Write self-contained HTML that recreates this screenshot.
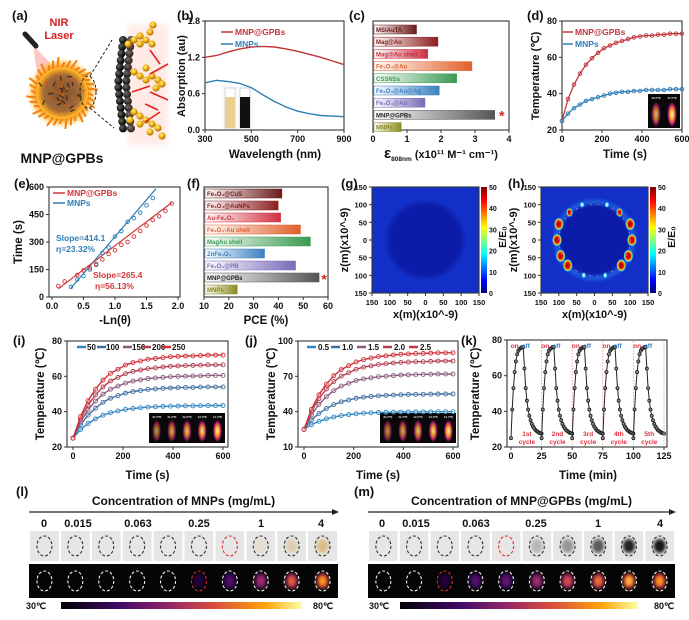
<!DOCTYPE html>
<html><head><meta charset="utf-8">
<style>
html,body{margin:0;padding:0;background:#fff;}
svg{display:block;font-family:"Liberation Sans",Arial,sans-serif;font-weight:bold;}
</style></head>
<body>
<svg id="fig" width="689" height="620" viewBox="0 0 689 620" xmlns="http://www.w3.org/2000/svg">
<defs>
  <radialGradient id="sphereG" cx="50%" cy="50%" r="50%">
    <stop offset="0" stop-color="#7a5030"/><stop offset="0.7" stop-color="#a06a3a"/><stop offset="0.9" stop-color="#f0a020"/><stop offset="1" stop-color="#ffd040" stop-opacity="0.6"/>
  </radialGradient>
  <radialGradient id="flameG" cx="50%" cy="50%" r="50%">
    <stop offset="0.75" stop-color="#ff9a20"/><stop offset="1" stop-color="#ffcc30" stop-opacity="0"/>
  </radialGradient>
  <radialGradient id="goldG" cx="40%" cy="35%" r="60%">
    <stop offset="0" stop-color="#fff080"/><stop offset="0.6" stop-color="#f0b010"/><stop offset="1" stop-color="#b07000"/>
  </radialGradient>
  <radialGradient id="blackG" cx="35%" cy="35%" r="60%">
    <stop offset="0" stop-color="#666"/><stop offset="1" stop-color="#000"/>
  </radialGradient>
  <linearGradient id="jet" x1="0" y1="1" x2="0" y2="0">
    <stop offset="0" stop-color="#00007f"/><stop offset="0.12" stop-color="#0000ff"/><stop offset="0.37" stop-color="#00ffff"/><stop offset="0.62" stop-color="#ffff00"/><stop offset="0.87" stop-color="#ff0000"/><stop offset="1" stop-color="#7f0000"/>
  </linearGradient>
  <linearGradient id="inferno" x1="0" y1="0" x2="1" y2="0">
    <stop offset="0" stop-color="#000004"/><stop offset="0.25" stop-color="#420a68"/><stop offset="0.45" stop-color="#932667"/><stop offset="0.65" stop-color="#dd513a"/><stop offset="0.85" stop-color="#fca50a"/><stop offset="1" stop-color="#fcffa4"/>
  </linearGradient>
  <radialGradient id="hotG" cx="50%" cy="50%" r="50%">
    <stop offset="0" stop-color="#fffbe0"/><stop offset="0.35" stop-color="#ffb020"/><stop offset="0.7" stop-color="#c02070"/><stop offset="1" stop-color="#300050" stop-opacity="0"/>
  </radialGradient>
  <radialGradient id="spotRed" cx="50%" cy="50%" r="50%">
    <stop offset="0" stop-color="#a00000"/><stop offset="0.45" stop-color="#e01000"/><stop offset="0.7" stop-color="#f0c000"/><stop offset="0.88" stop-color="#30d0ff"/><stop offset="1" stop-color="#1030ff" stop-opacity="0"/>
  </radialGradient>
  <radialGradient id="spotCyan" cx="50%" cy="50%" r="50%">
    <stop offset="0" stop-color="#ffffff"/><stop offset="0.5" stop-color="#60f0ff"/><stop offset="1" stop-color="#1030ff" stop-opacity="0"/>
  </radialGradient>
  <filter id="blur1"><feGaussianBlur stdDeviation="1.5"/></filter>
  <filter id="blur2"><feGaussianBlur stdDeviation="3"/></filter>
</defs>
</svg>
<script>
// ---------------- DATA ----------------
const absWl = [300,350,400,450,500,550,600,650,700,750,800,850,900];
const absGPB = [1.20,1.23,1.29,1.34,1.37,1.38,1.37,1.34,1.30,1.25,1.20,1.14,1.08];
const absMNP = [0.78,0.82,0.80,0.77,0.70,0.58,0.47,0.38,0.31,0.27,0.24,0.23,0.22];

const epsNames = ['MSiAuTA','Mag@Au','Mag@Au shell','Fe₃O₄@Au','CSSNSs','Fe₃O₄@Au@Ag','Fe₃O₄@Au','MNP@GPBs','MNPs'];
const epsValues = [1.25,1.88,1.58,2.88,2.43,1.92,1.50,3.55,0.80];
const epsColors = ['#6b1a1a','#8b1c1c','#c83040','#e0602a','#3a9a50','#3a80c0','#7a6ab8','#555555','#8a8a20'];

const heatTime = [0,30,60,90,120,150,180,210,240,270,300,330,360,390,420,450,480,510,540,570,600];
const dGPB = [25,37,45,51,56,59.5,62.5,65,66.5,68,69,70,71,71.5,72,72,72.5,72.5,73,73,73];
const dMNP = [25,29,32,34,36,37,38,39,40,40.5,41,41,41.5,41.5,42,42,42,42,42.5,42.5,42.5];

const eBlueX = [0.3,0.4,0.5,0.6,0.7,0.8,0.9,1.0,1.1,1.2,1.3,1.4,1.5,1.6];
const eBlueY = [55,95,115,150,180,240,270,330,360,410,430,460,500,540];
const eBlueFit = [[0.3,48],[1.65,590]];
const eRedX = [0.1,0.2,0.4,0.5,0.6,0.7,0.8,0.9,1.0,1.1,1.2,1.3,1.4,1.5,1.6,1.7,1.8,1.9];
const eRedY = [60,85,120,145,160,175,205,235,255,285,300,330,360,390,420,440,470,510];
const eRedFit = [[0.1,45],[1.9,515]];

const pceNames = ['Fe₃O₄@CuS','Fe₃O₄@AuNPs','Au-Fe₃O₄','Fe₃O₄-Au shell','MagAu shell','ZnFe₂O₄','Fe₃O₄@PB','MNP@GPBs','MNPs'];
const pceValues = [41,39.5,40.5,48.5,52.5,34,46.5,56,23];
const pceColors = ['#6b1a1a','#8b2020','#d03040','#e0602a','#3a9a50','#3a80c0','#7a6ab8','#555555','#8a8a20'];

const concLabels = ['50','100','150','200','250'];
const concColors = ['#2e86c1','#3f6f9f','#8a5a7a','#b0404f','#d0303a'];
const iSeries = [
 [25,29.8,33.3,35.9,38,39.4,40.4,41.3,41.8,42.2,42.6,42.8,43,43.1,43.2,43.3,43.3,43.4,43.5,43.5,43.5],
 [25,32.5,38,42,45.3,47.6,49.1,50.5,51.4,52,52.6,52.9,53.2,53.4,53.6,53.7,53.7,53.9,54,54,54],
 [25,34.2,41,46,49.9,52.7,54.5,56.2,57.3,58,58.7,59.1,59.4,59.8,60,60.1,60.2,60.3,60.5,60.5,60.5],
 [25,35.8,43.7,49.5,54,57.4,59.4,61.5,62.8,63.6,64.4,64.8,65.3,65.7,65.9,66.1,66.2,66.3,66.5,66.5,66.5],
 [25,37.2,46.2,52.7,57.9,61.7,64,66.4,67.8,68.7,69.7,70.1,70.6,71.1,71.3,71.5,71.6,71.8,72,72,72]
];
const powerLabels = ['0.5','1.0','1.5','2.0','2.5'];
const jSeries = [
 [25,28.9,31.8,33.9,35.5,36.7,37.5,38.2,38.7,39,39.3,39.4,39.6,39.7,39.8,39.9,39.9,39.9,40,40,40],
 [25,32.8,38.5,42.7,46,48.4,49.9,51.4,52.3,52.9,53.5,53.8,54.1,54.4,54.6,54.7,54.7,54.9,55,55,55],
 [25,37.2,46.2,52.7,57.9,61.7,64,66.4,67.8,68.7,69.7,70.1,70.6,71.1,71.3,71.5,71.6,71.8,72,72,72],
 [25,40.1,51.1,59.2,65.6,70.2,73.1,76,77.8,78.9,80.1,80.7,81.3,81.8,82.1,82.4,82.4,82.7,83,83,83],
 [25,41.9,54.3,63.4,70.5,75.7,79,82.2,84.2,85.5,86.8,87.4,88.1,88.7,89,89.4,89.4,89.7,90,90,90]
];
const cycleNames = ['1st','2nd','3rd','4th','5th'];
const cycleMinute = [0,1,2,3,4,5,6,7,8,9,10,11,12,13,14,15,16,17,18,19,20,21,22,23,24,25];
const cycleTemp = [25,41,53,62,68,72,74,75,75.5,76,76,64,53,46,41,37.5,35,33,31.5,30.5,29.5,29,28.5,28,27.8,27.5];

const concMNP = ['0','0.015','0.063','0.25','1','4'];
const lPhotoTone = [0,0,0,0,0,0,0,0.15,0.35,0.6];
const lHeat = [0,0,0,0,0,0.15,0.3,0.5,0.7,0.85];
const mPhotoTone = [0,0,0,0,0,0.2,0.35,0.65,0.9,0.95];
const mHeat = [0,0,0.15,0.3,0.35,0.5,0.65,0.75,0.9,0.85];

// ---------------- HELPERS ----------------
const NS='http://www.w3.org/2000/svg';
const svg=document.getElementById('fig');
function mk(tag, attrs, name, parent){
  const e=document.createElementNS(NS,tag);
  for(const k in attrs) e.setAttribute(k, attrs[k]);
  
  
  (parent||svg).appendChild(e);
  return e;
}
function tx(x,y,s,size,anchor,fill,name,extra){
  const a={x:x,y:y,'font-size':size,'text-anchor':anchor||'middle',fill:fill||'#111'};
  if(extra) for(const k in extra) a[k]=extra[k];
  const t=mk('text',a,name);
  t.textContent=s;
  return t;
}
function lin(d0,d1,r0,r1){return v=>r0+(v-d0)*(r1-r0)/(d1-d0);}
function frame(x0,y0,x1,y1,name){ mk('rect',{x:x0,y:y0,width:x1-x0,height:y1-y0,fill:'none',stroke:'#333','stroke-width':1.1},name); }
function xTicks(vals,labels,sx,y,name,size){
  vals.forEach((v,i)=>{
    mk('line',{x1:sx(v),x2:sx(v),y1:y,y2:y+3,stroke:'#333'},name+'-tick');
    tx(sx(v),y+12,labels[i],size||9,'middle','#111',name+'-label');
  });
}
function yTicks(vals,labels,sy,x,name,size){
  vals.forEach((v,i)=>{
    mk('line',{x1:x-3,x2:x,y1:sy(v),y2:sy(v),stroke:'#333'},name+'-tick');
    tx(x-5,sy(v)+3,labels[i],size||9,'end','#111',name+'-label');
  });
}
function vTitle(x,y,s,size,name){ tx(x,y,s,size,'middle','#111',name,{transform:'rotate(-90 '+x+' '+y+')'}); }
function poly(xs,ys,sx,sy,color,w,name,dash){
  const pts=xs.map((v,i)=>sx(v).toFixed(1)+','+sy(ys[i]).toFixed(1)).join(' ');
  const a={points:pts,fill:'none',stroke:color,'stroke-width':w||1.3};
  if(dash) a['stroke-dasharray']=dash;
  return mk('polyline',a,name);
}
function dots(xs,ys,sx,sy,color,r,name,fill){
  xs.forEach((v,i)=>{ mk('circle',{cx:sx(v),cy:sy(ys[i]),r:r||2,fill:fill||'none',stroke:color,'stroke-width':0.9},name); });
}
function panelLabel(x,y,s){ tx(x,y,s,13,'start','#111','panel-label-'+s.replace(/[()]/g,'')); }
function thermalInset(x,y,w,h,n,name){
  mk('rect',{x:x,y:y,width:w,height:h,fill:'#080808'},name);
  for(let i=0;i<n;i++){
    const cx=x+w*(i+0.5)/n, k=(i+1)/n;
    mk('ellipse',{cx:cx,cy:y+h*0.6,rx:w/n*0.32,ry:h*0.4,fill:'url(#hotG)',opacity:0.5+0.5*k},name+'-tube');
    tx(cx,y+5,'4'+i+'.0℃',3,'middle','#ddd',name+'-temp');
  }
}
const infStops=[[0,[0,0,4]],[0.25,[66,10,104]],[0.45,[147,38,103]],[0.65,[221,81,58]],[0.85,[252,165,10]],[1,[252,255,164]]];
function infernoColor(t){
  for(let i=1;i<infStops.length;i++){
    if(t<=infStops[i][0]){ const a=infStops[i-1],b=infStops[i]; const f=(t-a[0])/(b[0]-a[0]);
      return 'rgb('+a[1].map((c,j)=>Math.round(c+(b[1][j]-c)*f)).join(',')+')'; }
  }
  return 'rgb(252,255,164)';
}

// ---------------- (a) ----------------
panelLabel(12,20,'(a)');
tx(59,26,'NIR',11,'middle','#d02020','nir-text');
tx(59,39,'Laser',11,'middle','#d02020','laser-text');
mk('polygon',{points:'33,45 62,75 38,80',fill:'#ff8080',opacity:0.45},'laser-beam');
mk('line',{x1:25,y1:34,x2:36,y2:46,stroke:'#222','stroke-width':5,'stroke-linecap':'round'},'laser-pen');
mk('circle',{cx:62,cy:93,r:35,fill:'url(#flameG)'},'flame-halo');
for(let i=0;i<36;i++){ const a=i*Math.PI/18, r1=26, r2=31+(i%3)*2.5;
  mk('line',{x1:62+r1*Math.cos(a),y1:93+r1*Math.sin(a),x2:62+r2*Math.cos(a+0.08),y2:93+r2*Math.sin(a+0.08),stroke:'#f08010','stroke-width':2},'flame-spike'); }
mk('circle',{cx:62,cy:93,r:26,fill:'url(#sphereG)'},'mnp-sphere');
for(let i=0;i<40;i++){ const a=i*2.4, r=(i*7)%22;
  mk('line',{x1:62+r*Math.cos(a),y1:93+r*Math.sin(a),x2:62+r*Math.cos(a)+5*Math.cos(a*3),y2:93+r*Math.sin(a)+5*Math.sin(a*3),stroke:i%2?'#4a2a18':'#c06020','stroke-width':1.3},'sphere-texture'); }
mk('ellipse',{cx:88,cy:92,rx:8,ry:16,fill:'none',stroke:'#222','stroke-dasharray':'3 2'},'zoom-ellipse');
mk('line',{x1:90,y1:76,x2:112,y2:40,stroke:'#222','stroke-dasharray':'3 2'},'zoom-line-top');
mk('line',{x1:90,y1:108,x2:114,y2:128,stroke:'#222','stroke-dasharray':'3 2'},'zoom-line-bottom');
for(let row=0;row<14;row++){ for(let c=0;c<2;c++){ const t=row/13; const cx=118+c*8+ (Math.abs(t-0.5)*10); const cy=40+row*6.8;
  mk('circle',{cx:cx,cy:cy,r:4,fill:'url(#blackG)'},'black-bead'); } }
mk('rect',{x:128,y:25,width:40,height:120,fill:'#ffb0a0',opacity:0.25,filter:'url(#blur2)'},'gold-glow');
const goldPts=[[128,44],[134,40],[140,44],[146,40],[152,44],[150,32],[153,25],[140,36],[134,72],[140,76],[146,80],[152,76],[158,80],[156,88],[162,84],[146,68],[134,112],[140,116],[146,120],[152,124],[158,128],[162,136],[150,132],[140,124],[130,120]];
goldPts.forEach(p=>mk('circle',{cx:p[0],cy:p[1],r:3.6,fill:'url(#goldG)'},'gold-bead'));
[[150,50,160,64],[168,64,150,74],[150,92,168,100],[145,104,158,110],[160,112,145,122],[132,92,150,86]].forEach(a=>{
  mk('line',{x1:a[0],y1:a[1],x2:a[2],y2:a[3],stroke:'#e82020','stroke-width':1.6},'red-arrow'); });
tx(62,163,'MNP@GPBs',14,'middle','#111','a-title');

// ---------------- (b) ----------------
panelLabel(177,20,'(b)');
(function(){
  const sx=lin(300,900,205,344), sy=lin(0,1.8,130,21);
  frame(205,21,344,130,'b-frame');
  xTicks([300,500,700,900],['300','500','700','900'],sx,130,'b-x');
  yTicks([0,0.6,1.2,1.8],['0.0','0.6','1.2','1.8'],sy,205,'b-y');
  mk('rect',{x:222,y:86,width:32,height:43,fill:'#fafafa'},'vial-inset');
  mk('rect',{x:225,y:88,width:10,height:40,fill:'#fff',stroke:'#bbb','stroke-width':0.6},'vial-1');
  mk('rect',{x:225,y:97,width:10,height:31,fill:'#eccf90'},'vial-1-liquid');
  mk('rect',{x:240,y:88,width:10,height:40,fill:'#fff',stroke:'#bbb','stroke-width':0.6},'vial-2');
  mk('rect',{x:240,y:97,width:10,height:31,fill:'#111'},'vial-2-liquid');
  poly(absWl,absGPB,sx,sy,'#c0363c',1.4,'b-line-mnp-gpbs');
  poly(absWl,absMNP,sx,sy,'#2f7fb5',1.4,'b-line-mnps');
  mk('line',{x1:221,x2:233,y1:32,y2:32,stroke:'#c0363c','stroke-width':1.5},'b-legend-gpb-line');
  tx(235,35,'MNP@GPBs',8.5,'start','#c0363c','b-legend-gpb');
  mk('line',{x1:221,x2:233,y1:44,y2:44,stroke:'#2f7fb5','stroke-width':1.5},'b-legend-mnp-line');
  tx(235,47,'MNPs',8.5,'start','#2f7fb5','b-legend-mnp');
  tx(275,158,'Wavelength (nm)',11.5,'middle','#111','b-x-title');
  vTitle(185,76,'Absorption (au)',11,'b-y-title');
})();

// ---------------- (c) ----------------
panelLabel(349,20,'(c)');
(function(){
  const sx=lin(0,4,373,509);
  const top=21, step=12.2;
  frame(373,21,509,130,'c-frame');
  xTicks([0,1,2,3,4],['0','1','2','3','4'],sx,130,'c-x');
  epsValues.forEach((v,i)=>{
    const y=top+4+i*step;
    const gid='cg'+i;
    const g=mk('linearGradient',{id:gid,x1:0,y1:0,x2:1,y2:0},'c-grad',svg.querySelector('defs'));
    mk('stop',{offset:0,'stop-color':'#fff'},'c-stop',g);
    mk('stop',{offset:1,'stop-color':epsColors[i]},'c-stop',g);
    mk('rect',{x:sx(0)+1,y:y,width:sx(v)-sx(0),height:9,fill:'url(#'+gid+')',stroke:epsColors[i],'stroke-width':0.5},'c-bar-'+i);
    tx(sx(0)+3,y+7,epsNames[i],6,'start',epsColors[i]==='#555555'?'#222':epsColors[i],'c-bar-label');
  });
  tx(sx(epsValues[7])+8,top+4+7*step+10,'*',14,'middle','#e02020','c-star');
  const t=mk('text',{x:441,y:158,'text-anchor':'middle','font-size':11,fill:'#111'},'c-x-title');
  const s1=document.createElementNS(NS,'tspan'); s1.setAttribute('font-size','15'); s1.textContent='ε'; t.appendChild(s1);
  const s2=document.createElementNS(NS,'tspan'); s2.setAttribute('font-size','6.5'); s2.setAttribute('dy','3'); s2.textContent='808nm'; t.appendChild(s2);
  const s3=document.createElementNS(NS,'tspan'); s3.setAttribute('dy','-3'); s3.textContent=' (x10¹¹ M⁻¹ cm⁻¹)'; t.appendChild(s3);
})();

// ---------------- (d) ----------------
panelLabel(527,20,'(d)');
(function(){
  const sx=lin(0,600,562,682), sy=lin(20,80,130,21);
  frame(562,21,682,130,'d-frame');
  xTicks([0,200,400,600],['0','200','400','600'],sx,130,'d-x');
  yTicks([20,40,60,80],['20','40','60','80'],sy,562,'d-y');
  thermalInset(648,94,32,34,2,'d-inset');
  poly(heatTime,dGPB,sx,sy,'#c0363c',1.3,'d-line-gpb');
  dots(heatTime,dGPB,sx,sy,'#c0363c',1.8,'d-point-gpb');
  poly(heatTime,dMNP,sx,sy,'#2f7fb5',1.3,'d-line-mnp');
  dots(heatTime,dMNP,sx,sy,'#2f7fb5',1.8,'d-point-mnp');
  mk('line',{x1:563,x2:573,y1:32,y2:32,stroke:'#c0363c','stroke-width':1.5},'d-legend-gpb-line');
  tx(575,35,'MNP@GPBs',8.5,'start','#c0363c','d-legend-gpb');
  mk('line',{x1:563,x2:573,y1:44,y2:44,stroke:'#2f7fb5','stroke-width':1.5},'d-legend-mnp-line');
  tx(575,47,'MNPs',8.5,'start','#2f7fb5','d-legend-mnp');
  tx(625,158,'Time (s)',11.5,'middle','#111','d-x-title');
  vTitle(539,76,'Temperature (℃)',11,'d-y-title');
})();

// ---------------- (e) ----------------
panelLabel(14,188,'(e)');
(function(){
  const sx=lin(0,2,52,178), sy=lin(0,600,297,187);
  frame(49,187,180,297,'e-frame');
  xTicks([0,0.5,1,1.5,2],['0.0','0.5','1.0','1.5','2.0'],sx,297,'e-x');
  yTicks([0,150,300,450,600],['0','150','300','450','600'],sy,49,'e-y');
  poly(eBlueFit.map(p=>p[0]),eBlueFit.map(p=>p[1]),sx,sy,'#2f7fb5',1.2,'e-fit-mnp');
  poly(eRedFit.map(p=>p[0]),eRedFit.map(p=>p[1]),sx,sy,'#d0363c',1.2,'e-fit-gpb');
  dots(eBlueX,eBlueY,sx,sy,'#2f7fb5',1.8,'e-point-mnp');
  dots(eRedX,eRedY,sx,sy,'#d0363c',1.8,'e-point-gpb');
  mk('line',{x1:53,x2:65,y1:193,y2:193,stroke:'#d0363c','stroke-width':1.5},'e-legend-gpb-line');
  tx(67,196,'MNP@GPBs',8.5,'start','#d0363c','e-legend-gpb');
  mk('line',{x1:53,x2:65,y1:203,y2:203,stroke:'#2f7fb5','stroke-width':1.5},'e-legend-mnp-line');
  tx(67,206,'MNPs',8.5,'start','#2f7fb5','e-legend-mnp');
  tx(56,241,'Slope=414.1',8.5,'start','#2f7fb5','e-slope-mnp');
  tx(56,252,'η=23.32%',8.5,'start','#2f7fb5','e-eta-mnp');
  tx(93,278,'Slope=265.4',8.5,'start','#d0363c','e-slope-gpb');
  tx(95,289,'η=56.13%',8.5,'start','#d0363c','e-eta-gpb');
  tx(115,324,'-Ln(θ)',11.5,'middle','#111','e-x-title');
  vTitle(22,242,'Time (s)',11.5,'e-y-title');
})();

// ---------------- (f) ----------------
panelLabel(187,188,'(f)');
(function(){
  const sx=lin(10,60,204,328);
  frame(204,187,328,297,'f-frame');
  xTicks([10,20,30,40,50,60],['10','20','30','40','50','60'],sx,297,'f-x');
  pceValues.forEach((v,i)=>{
    const y=189+i*12;
    const gid='fg'+i;
    const g=mk('linearGradient',{id:gid,x1:0,y1:0,x2:1,y2:0},'f-grad',svg.querySelector('defs'));
    mk('stop',{offset:0,'stop-color':'#fff'},'f-stop',g);
    mk('stop',{offset:1,'stop-color':pceColors[i]},'f-stop',g);
    mk('rect',{x:sx(10)+1,y:y,width:sx(v)-sx(10),height:9,fill:'url(#'+gid+')',stroke:pceColors[i],'stroke-width':0.5},'f-bar-'+i);
    tx(sx(10)+3,y+7,pceNames[i],6,'start',pceColors[i]==='#555555'?'#222':pceColors[i],'f-bar-label');
  });
  tx(sx(pceValues[7])+6,189+7*12+11,'*',14,'middle','#e02020','f-star');
  tx(266,324,'PCE (%)',11.5,'middle','#111','f-x-title');
})();

// ---------------- (g) & (h) ----------------
function fdtd(x0,label,lx,hot){
  panelLabel(lx,188,label);
  const x1=x0+107, y0=187, y1=293;
  const sx=lin(-150,150,x0,x1), sy=lin(-150,150,y1,y0);
  mk('rect',{x:x0,y:y0,width:107,height:106,fill:'#1230c8'},label+'-field');
  mk('ellipse',{cx:sx(0),cy:sy(0),rx:38,ry:38,fill:'#0c1ca8',filter:'url(#blur1)'},label+'-particle');
  if(hot){
    mk('circle',{cx:sx(0),cy:sy(0),r:38,fill:'none',stroke:'#3090ff','stroke-width':5,opacity:0.5,filter:'url(#blur1)'},'h-ring-glow');
    const spots=[[100,45,1],[105,0,1],[95,-45,1],[75,-72,1],[70,78,0.6],[35,100,0],[30,-100,0]];
    spots.forEach(s=>{ [1,-1].forEach(m=>{
      const r=s[2]===1?6.5:(s[2]>0?4.5:3.5);
      mk('ellipse',{cx:sx(m*s[0]),cy:sy(s[1]),rx:r*0.75,ry:r,fill:s[2]>0?'url(#spotRed)':'url(#spotCyan)'},'h-hotspot');
    });});
    mk('circle',{cx:sx(0),cy:sy(0),r:36,fill:'none',stroke:'#ffffff','stroke-width':0.6,'stroke-dasharray':'1.5 6',opacity:0.7},'h-outline');
  }
  frame(x0,y0,x1,y1,label+'-frame');
  xTicks([-150,-100,-50,0,50,100,150],['150','100','50','0','50','100','150'],sx,y1,label+'-x',7.5);
  yTicks([150,100,50,0,-50,-100,-150],['150','100','50','0','50','100','150'],sy,x0,label+'-y',7.5);
  mk('rect',{x:x1+2,y:y0,width:6,height:106,fill:'url(#jet)'},label+'-colorbar');
  const cs=lin(0,50,y1,y0);
  [0,10,20,30,40,50].forEach(v=>tx(x1+10,cs(v)+3,String(v),7,'start','#111',label+'-cb-label'));
  vTitle(x1+27,y0+50,'E/E₀',10.5,label+'-cb-title');
  tx(sx(0),318,'x(m)(x10^-9)',11,'middle','#111',label+'-x-title');
  vTitle(x0-24,240,'z(m)(x10^-9)',11,label+'-y-title');
}
fdtd(372,'(g)',341,false);
fdtd(541,'(h)',508,true);

// ---------------- (i) & (j) ----------------
function heatPanel(bx0,bx1,lx,label,series,labels,ymin,ymax,yt,legendXs,legendTxtXs){
  panelLabel(lx,345,label);
  const sx=lin(0,600,bx0+6,bx1-5), sy=lin(ymin,ymax,447,341);
  frame(bx0,341,bx1,447,label+'-frame');
  xTicks([0,200,400,600],['0','200','400','600'],sx,447,label+'-x');
  yTicks(yt,yt.map(String),sy,bx0,label+'-y');
  thermalInset(bx0+82,413,76,30,5,label+'-inset');
  series.forEach((s,i)=>{
    poly(heatTime,s,sx,sy,concColors[i],1.4,label+'-line-'+labels[i]);
    dots(heatTime,s,sx,sy,concColors[i],2,label+'-point-'+labels[i],'rgba(255,255,255,0.3)');
    mk('line',{x1:legendXs[i],x2:legendXs[i]+9,y1:347,y2:347,stroke:concColors[i],'stroke-width':2.5},label+'-legend-line');
    tx(legendTxtXs[i],350,labels[i],8,'start','#111',label+'-legend-'+labels[i]);
  });
  tx((bx0+bx1)/2,479,'Time (s)',11.5,'middle','#111',label+'-x-title');
  vTitle(bx0-23,394,'Temperature (℃)',11.5,label+'-y-title');
}
heatPanel(67,228,13,'(i)',iSeries,concLabels,20,80,[20,40,60,80],[77,97,123,142,162],[87,106,132,152,172]);
heatPanel(298,458,245,'(j)',jSeries,powerLabels,10,100,[10,40,70,100],[307,331,357,383,409],[318,342,368,394,420]);

// ---------------- (k) ----------------
panelLabel(461,345,'(k)');
(function(){
  const sx=lin(0,125,511,664), sy=lin(20,80,447,340);
  frame(507,340,667,447,'k-frame');
  xTicks([0,25,50,75,100,125],['0','25','50','75','100','125'],sx,447,'k-x');
  yTicks([20,40,60,80],['20','40','60','80'],sy,507,'k-y');
  cycleNames.forEach((n,c)=>{
    const off=c*25;
    if(c>0) mk('line',{x1:sx(off),x2:sx(off),y1:341,y2:446,stroke:'#f08080','stroke-width':0.7,'stroke-dasharray':'1.5 1.5'},'k-cycle-divider');
    const xs=cycleMinute.map(m=>m+off);
    poly(xs,cycleTemp,sx,sy,'#222',1,'k-line-'+n);
    dots(xs,cycleTemp,sx,sy,'#222',1.5,'k-point-'+n,'#999');
    tx(sx(off+3),348,'on',6.5,'middle','#e03040','k-on');
    tx(sx(off+12),348,'off',6.5,'middle','#3a80c0','k-off');
    tx(sx(off+13),436,n,6.5,'middle','#e03040','k-cycle-num');
    tx(sx(off+13),444,'cycle',6.5,'middle','#e03040','k-cycle-word');
  });
  mk('line',{x1:sx(125),x2:sx(125),y1:341,y2:446,stroke:'#f08080','stroke-width':0.7,'stroke-dasharray':'1.5 1.5'},'k-cycle-divider');
  tx(588,479,'Time (min)',11.5,'middle','#111','k-x-title');
  vTitle(479,394,'Temperature (℃)',11.5,'k-y-title');
})();

// ---------------- (l) & (m) ----------------
function concPanel(x0,x1,lx,label,title,labels,labelXs,photo,heat,redPhoto,redHeat,photoColor,cbX0,cbX1,c30x,c80x){
  panelLabel(lx,496,label);
  tx((x0+x1)/2,505,title,12,'middle','#111',label+'-title');
  mk('line',{x1:x0,x2:x1-4,y1:512,y2:512,stroke:'#222','stroke-width':1.2},label+'-arrow-line');
  mk('polygon',{points:(x1-6)+',509 '+(x1+1)+',512 '+(x1-6)+',515',fill:'#222'},label+'-arrow-head');
  labels.forEach((s,i)=>tx(labelXs[i],527,s,11,'middle','#111',label+'-conc-'+s));
  const w=(x1-x0)/10;
  mk('rect',{x:x0,y:564,width:x1-x0,height:34,fill:'#050505'},label+'-thermal-strip');
  photo.forEach((p,i)=>{
    const cx=x0+w*(i+0.5);
    mk('rect',{x:x0+w*i+1,y:531,width:w-2,height:30,fill:'#e6e6e6'},label+'-photo-tile');
    if(p>0) mk('ellipse',{cx:cx,cy:546,rx:6,ry:7,fill:photoColor(p),filter:'url(#blur1)'},label+'-photo-sample');
    mk('ellipse',{cx:cx,cy:546,rx:7.5,ry:10,fill:'none',stroke:i===redPhoto?'#e03030':'#333','stroke-width':1.1,'stroke-dasharray':'3 2'},label+'-photo-ring');
    const h=heat[i];
    if(h>0){
      mk('ellipse',{cx:cx,cy:581,rx:6,ry:7.5,fill:infernoColor(h*0.75),filter:'url(#blur1)'},label+'-thermal-spot');
      mk('ellipse',{cx:cx,cy:581,rx:3,ry:4,fill:infernoColor(h),filter:'url(#blur1)'},label+'-thermal-core');
    }
    mk('ellipse',{cx:cx,cy:581,rx:7.5,ry:10,fill:'none',stroke:i===redHeat?'#d03030':'#eee','stroke-width':1.1,'stroke-dasharray':'3 2'},label+'-thermal-ring');
  });
  mk('rect',{x:cbX0,y:602,width:cbX1-cbX0,height:7,fill:'url(#inferno)'},label+'-colorbar');
  tx(c30x,609,'30℃',9,'middle','#111',label+'-cb-min');
  tx(c80x,609,'80℃',9,'middle','#111',label+'-cb-max');
}
concPanel(29,338,16,'(l)','Concentration of MNPs (mg/mL)',concMNP,[44,78,138,199,261,321],lPhotoTone,lHeat,6,5,
  p=>'rgba(210,160,80,'+p+')',61,302,36,323);
concPanel(368,675,354,'(m)','Concentration of MNP@GPBs (mg/mL)',concMNP,[382,416,476,536,598,660],mPhotoTone,mHeat,4,2,
  p=>'rgba(10,10,10,'+p+')',400,638,379,664);
</script>
</body></html>
